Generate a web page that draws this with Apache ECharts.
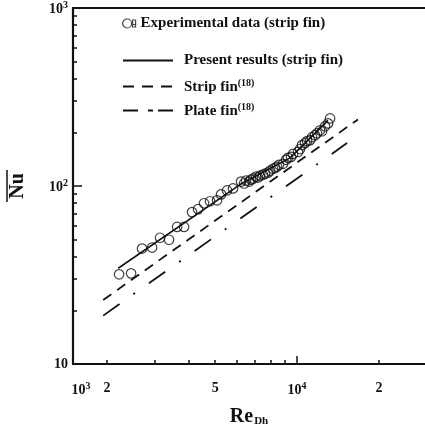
<!DOCTYPE html>
<html><head><meta charset="utf-8">
<script src="https://cdn.jsdelivr.net/npm/echarts@6/dist/echarts.min.js"></script>
<style>html,body{margin:0;padding:0;background:#fff}#c{width:425px;height:432px}</style>
</head><body><div id="c"></div>
<script>
// Experimental data (strip fin)
const expRe = [2216,2453,2692,2931,3135,3383,3622,3842,4111,4325,4550,4786,5080,5255,5528,5817,6225,6385,6494,6660,6775,6890,7069,7189,7311,7499,7627,7824,7957,8164,8302,8443,8587,8882,9112,9267,9504,9667,10085,10257,10432,10700,10884,11164,11353,11646,11845,12150,12357,12675,13002,13224];
const expNu = [31.9,32.3,44.5,45.1,51.2,49.9,58.9,58.9,71.3,74.1,80.0,82.1,83.1,89.7,94.4,96.9,105.9,103.3,107.3,105.9,108.6,110.0,112.9,111.5,114.3,115.8,117.3,118.8,121.9,125.0,126.6,128.2,131.5,133.3,140.3,143.9,145.7,151.4,155.3,161.4,169.8,174.2,178.7,180.9,188.0,192.9,197.9,205.6,203.0,216.4,224.8,239.6];
// Present results (strip fin)
const presentRe = [2200,6171,9425,13000];
const presentNu = [34.5,101.9,143.9,233.6];
// Strip fin (18)
const stripRe = [1937,16750];
const stripNu = [22.9,236.6];
// Plate fin (18)
const plateRe = [1937,15270];
const plateNu = [18.7,174.2];
// axes
const xMin = 1500, xMax = 29550, yMin = 10, yMax = 1000;
const xTickValues = [2000,3000,4000,5000,6000,7000,8000,9000,10000,20000];
const xMajorTicks = [10000];
const xLabelValues = [1500,2000,5000,10000,20000];
const xLabelTexts = ['{p|10}{u|3}','{n|2}','{n|5}','{n|10}{u|4}','{n|2}'];
const yTickValues = [10,20,30,40,50,60,70,80,90,100,200,300,400,500,600,700,800,900,1000];
const yMajorTicks = [100];
const yLabelValues = [10,100,1000];
const yLabelTexts = ['{n|10}','{n|10}{u|2}','{n|10}{u|3}'];

const F = 'Liberation Serif';
const INK = '#111';
const zip = (a,b) => a.map((v,i)=>[v,b[i]]);
const rich = {
  n:{fontFamily:F,fontWeight:'bold',fontSize:14,color:INK,verticalAlign:'bottom'},
  p:{fontFamily:F,fontWeight:'bold',fontSize:14,color:INK,verticalAlign:'bottom',padding:[0,0,0,16]},
  u:{fontFamily:F,fontWeight:'bold',fontSize:10,color:INK,verticalAlign:'bottom',padding:[0,0,6,0]}
};
const legRich = {
  t:{fontFamily:F,fontWeight:'bold',fontSize:15,color:INK,verticalAlign:'bottom',padding:[0,0,0,6]},
  e:{fontFamily:F,fontWeight:'bold',fontSize:15,color:INK,verticalAlign:'bottom'},
  u:{fontFamily:F,fontWeight:'bold',fontSize:10,color:INK,verticalAlign:'bottom',padding:[0,0,7,0]}
};
const names = ['Experimental data (strip fin)','Present results (strip fin)','Strip fin','Plate fin'];
const legFmt = n => n===names[0] ? '{e|'+n+'}' : (n===names[1] ? '{t|'+n+'}' : '{t|'+n+'}{u|(18)}');
const legendBase = (name, top, extra) => Object.assign({
  data:[name], left:122, top:top, orient:'vertical', selectedMode:false, padding:0,
  itemWidth:50, itemHeight:12, formatter:legFmt, textStyle:{rich:legRich},
  itemStyle:{color:'rgba(0,0,0,0)',borderWidth:0,opacity:0}
}, extra||{});
const hiddenAxisParts = {axisLabel:{show:false},splitLine:{show:false},minorTick:{show:false}};

const chart = echarts.init(document.getElementById('c'), null, {renderer:'canvas'});
chart.setOption({
  animation:false,
  backgroundColor:'#fff',
  grid:{left:73,top:8,right:0,bottom:62},
  legend:[
    legendBase(names[0],16,{left:122,itemWidth:13,itemHeight:9,
      icon:'path://M9,4.5A4.5,4.5,0,1,1,0,4.5A4.5,4.5,0,1,1,9,4.5Z M10,1L13,1L13,8L10,8Z M10,5.5L13,5.5',
      itemStyle:{color:'rgba(0,0,0,0)',borderColor:INK,borderWidth:1.2}}),
    legendBase(names[1],53),
    legendBase(names[2],78,{lineStyle:{type:[11,8]}}),
    legendBase(names[3],102,{lineStyle:{type:[15,10,5,5]}})
  ],
  xAxis:[{type:'log',logBase:10,min:xMin,max:xMax,
    name:'{r|Re}{s|Dh}',nameLocation:'middle',nameGap:43,
    nameTextStyle:{rich:{r:{fontFamily:F,fontWeight:'bold',fontSize:20,color:INK,verticalAlign:'bottom'},
                         s:{fontFamily:F,fontWeight:'bold',fontSize:11,color:INK,verticalAlign:'bottom',padding:[0,0,0,1]}}},
    axisLine:{lineStyle:{color:INK,width:2}},
    axisTick:{inside:true,length:4,customValues:xTickValues,lineStyle:{color:INK,width:1.5}},
    axisLabel:{customValues:xLabelValues,margin:17,rich:rich,
      formatter:v=>{const i=xLabelValues.findIndex(x=>Math.abs(x-v)<1e-6*x);return i>=0?xLabelTexts[i]:'';}},
    splitLine:{show:false},minorTick:{show:false}},
   Object.assign({type:'log',logBase:10,min:xMin,max:xMax,position:'top',
    axisLine:{lineStyle:{color:INK,width:2}},axisTick:{show:false}},hiddenAxisParts),
   Object.assign({type:'log',logBase:10,min:xMin,max:xMax,position:'bottom',offset:0,
    axisLine:{show:false},
    axisTick:{inside:true,length:8,customValues:xMajorTicks,lineStyle:{color:INK,width:1.5}}},hiddenAxisParts)],
  yAxis:[{type:'log',logBase:10,min:yMin,max:yMax,position:'left',
    axisLine:{lineStyle:{color:INK,width:2.2}},
    axisTick:{inside:true,length:4,customValues:yTickValues,lineStyle:{color:INK,width:1.5}},
    axisLabel:{customValues:yLabelValues,margin:5,rich:rich,
      formatter:v=>{const i=yLabelValues.findIndex(x=>Math.abs(x-v)<1e-6*x);return i>=0?yLabelTexts[i]:'';}},
    name:'Nu',nameLocation:'middle',nameRotate:90,nameGap:45,
    nameTextStyle:{fontFamily:F,fontWeight:'bold',fontSize:20,color:INK},
    splitLine:{show:false},minorTick:{show:false}},
   Object.assign({type:'log',logBase:10,min:yMin,max:yMax,position:'left',offset:0,
    axisLine:{show:false},
    axisTick:{inside:true,length:9,customValues:yMajorTicks,lineStyle:{color:INK,width:1.5}}},hiddenAxisParts)],
  graphic:[{type:'line',shape:{x1:7,y1:170,x2:7,y2:202},style:{stroke:INK,lineWidth:1.5}}],
  series:[
    {name:names[0],type:'scatter',data:zip(expRe,expNu),symbol:'circle',symbolSize:9.5,
      itemStyle:{color:'rgba(0,0,0,0)',borderColor:INK,borderWidth:1.2}},
    {name:names[1],type:'line',data:zip(presentRe,presentNu),symbol:'none',
      lineStyle:{color:INK,width:1.6},itemStyle:{color:INK}},
    {name:names[2],type:'line',data:zip(stripRe,stripNu),symbol:'none',
      lineStyle:{color:INK,width:1.8,type:[10,7]},itemStyle:{color:INK}},
    {name:names[3],type:'line',data:zip(plateRe,plateNu),symbol:'none',
      lineStyle:{color:INK,width:1.8,type:[20,17,2,17]},itemStyle:{color:INK}}
  ]
});
</script></body></html>
